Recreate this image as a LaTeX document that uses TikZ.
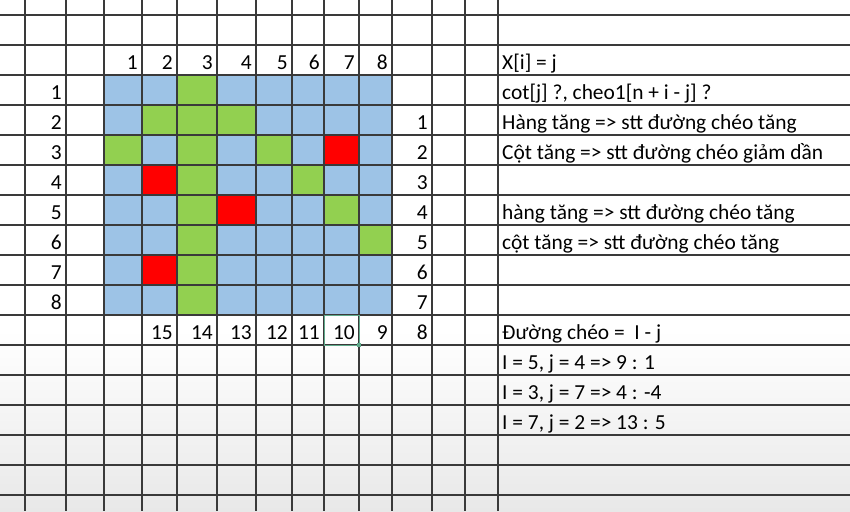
\documentclass[tikz,border=0pt]{standalone}
\usepackage{fontspec}
\setmainfont{Carlito}
\definecolor{cellblue}{HTML}{9DC3E6}
\definecolor{cellgreen}{HTML}{92D050}
\definecolor{cellred}{HTML}{FF0000}
\definecolor{gridgray}{HTML}{3A3A3A}
\definecolor{selgreen}{HTML}{5FA98A}
\begin{document}
\begin{tikzpicture}[x=1pt,y=-1pt,
  num/.style={anchor=base east, inner sep=0pt, font=\fontsize{21.4}{24}\selectfont},
  txt/.style={anchor=base west, inner sep=0pt, font=\fontsize{21.4}{24}\selectfont},
  gridline/.style={gridgray, line width=1.3pt}]
\useasboundingbox (0,0) rectangle (850,511);
\fill[white] (0,0) rectangle (850,511);
\fill[top color=white, bottom color=black!9] (0,330) rectangle (850,511);
% board
\fill[cellblue] (104,75) rectangle (392,315);
\fill[cellgreen] (177,75) rectangle (217,315);
\fill[cellgreen] (142,105) rectangle (177,135) (217,105) rectangle (256,135)
  (104,135) rectangle (142,165) (256,135) rectangle (292,165)
  (292,165) rectangle (324,195) (324,195) rectangle (359,225)
  (359,225) rectangle (392,255);
\fill[cellred] (324,135) rectangle (359,165) (142,165) rectangle (177,195)
  (217,195) rectangle (256,225) (142,255) rectangle (177,285);
% grid
\foreach \x in {25,66,104,142,177,217,256,292,324,359,392,432,465,498} {
    \draw[gridline] (\x,0) -- (\x,511);
}
\foreach \y in {15,45,...,495} {
    \draw[gridline] (0,\y) -- (850,\y);
}
\draw[selgreen, line width=1pt] (324,315) rectangle (359,345);
\fill[selgreen] (357,343) rectangle (361,347);
% numbers
\foreach \n/\x in {1/142,2/177,3/217,4/256,5/292,6/324,7/359,8/392} {
    \node[num] (col\n) at (\x-4,69) {\n};
}
\foreach \n in {1,...,8} {
    \node[num] (row\n) at (62,{99+30*(\n-1)}) {\n};
    \node[num] (cheo\n) at (428,{129+30*(\n-1)}) {\n};
}
\foreach \n/\x in {15/177,14/217,13/256,12/292,11/324,10/359,9/392} {
    \node[num] (diag\n) at (\x-4,339) {\n};
}
% notes
\node[txt] (xij) at (502,69) {X[i] = j};
\node[txt] (cot) at (502,99) {cot[j] ?, cheo1[n + i - j] ?};
\node[txt] (hang1) at (502,129) {Hàng tăng => stt đường chéo tăng};
\node[txt] (cot1) at (502,159) {Cột tăng => stt đường chéo giảm dần};
\node[txt] (hang2) at (502,219) {hàng tăng => stt đường chéo tăng};
\node[txt] (cot2) at (502,249) {cột tăng => stt đường chéo tăng};
\node[txt] (duong) at (502,339) {Đường chéo = \ I - j};
\node[txt] (vd1) at (502,369) {I = 5, j = 4 => 9 : 1};
\node[txt] (vd2) at (502,399) {I = 3, j = 7 => 4 : -4};
\node[txt] (vd3) at (502,429) {I = 7, j = 2 => 13 : 5};
\end{tikzpicture}
\end{document}
